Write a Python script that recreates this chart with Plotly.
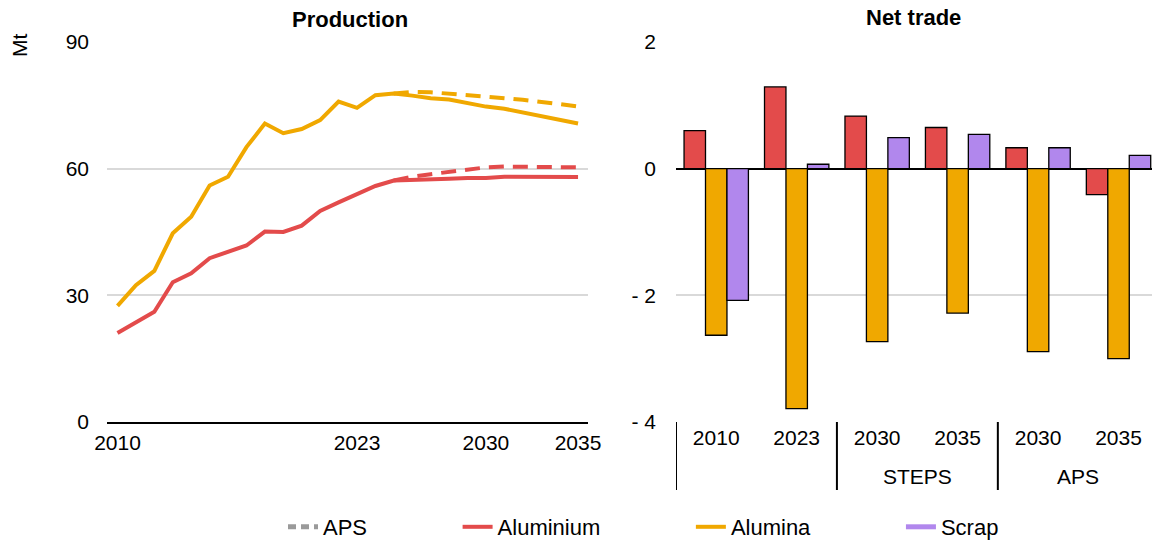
import plotly.graph_objects as go

# ---------------- data ----------------
years = list(range(2010, 2036))
alumina = [27.5, 32.4, 35.8, 44.7, 48.6, 56.0, 58.1, 65.1, 70.7, 68.4, 69.4, 71.5, 75.9,
           74.4, 77.4, 77.8, 77.3, 76.7, 76.4, 75.6, 74.7, 74.2, 73.3, 72.5, 71.7, 70.7]
aluminium = [21.1, 23.5, 26.1, 33.1, 35.2, 38.8, 40.3, 41.8, 45.1, 45.0, 46.5, 50.0, 52.0,
             54.0, 55.9, 57.2, 57.3, 57.3, 57.6, 57.8, 57.8, 58.1, 58.1, 58.0, 58.0, 58.0]
aps_years = list(range(2025, 2036))
alumina_aps = [77.8, 78.2, 78.1, 77.8, 77.4, 77.1, 76.7, 76.3, 75.9, 75.3, 74.7]
aluminium_aps = [57.2, 58.1, 58.7, 59.2, 59.8, 60.3, 60.5, 60.5, 60.4, 60.4, 60.3]

trade_groups = ["", "", "STEPS", "STEPS", "APS", "APS"]
trade_years = ["2010", "2023", "2030", "2035", "2030", "2035"]
trade_aluminium = [0.60, 1.29, 0.83, 0.65, 0.33, -0.41]
trade_alumina = [-2.63, -3.79, -2.73, -2.28, -2.89, -3.00]
trade_scrap = [-2.08, 0.07, 0.49, 0.54, 0.33, 0.21]

left_xticks = [2010, 2023, 2030, 2035]
left_yticks = [0, 30, 60, 90]
right_yticks = [-4, -2, 0, 2]
right_yticktext = ["- 4", "- 2", "0", "2"]

RED = "#E34B4B"
ORANGE = "#F0A800"
PURPLE = "#B187ED"
GREY = "#9A9A9A"
GRID = "#D9D9D9"
FONT = "Liberation Sans, Arial, sans-serif"

W, H = 1152, 542
def px_x(p): return p / W
def px_y(p): return 1 - p / H

PAD = "\u00a0" * 14

fig = go.Figure()

# legend-only APS entry
fig.add_trace(go.Scatter(x=[None], y=[None], mode="lines", name="APS" + PAD,
                         line=dict(color=GREY, width=5, dash="8px,5px"),
                         xaxis="x", yaxis="y"))
# APS dashed lines
fig.add_trace(go.Scatter(x=aps_years, y=alumina_aps, mode="lines", showlegend=False,
                         line=dict(color=ORANGE, width=4, dash="15px,9px"), xaxis="x", yaxis="y"))
fig.add_trace(go.Scatter(x=aps_years, y=aluminium_aps, mode="lines", showlegend=False,
                         line=dict(color=RED, width=4, dash="15px,9px"), xaxis="x", yaxis="y"))
# solid lines
fig.add_trace(go.Scatter(x=years, y=aluminium, mode="lines", name="Aluminium" + PAD,
                         line=dict(color=RED, width=4), xaxis="x", yaxis="y"))
fig.add_trace(go.Scatter(x=years, y=alumina, mode="lines", name="Alumina" + PAD,
                         line=dict(color=ORANGE, width=4), xaxis="x", yaxis="y"))
# legend-only scrap entry
fig.add_trace(go.Scatter(x=[None], y=[None], mode="lines", name="Scrap",
                         line=dict(color=PURPLE, width=5), xaxis="x", yaxis="y"))

# bars (categories placed at index positions on the second x axis)
idx = list(range(len(trade_years)))
for vals, col in [(trade_aluminium, RED), (trade_alumina, ORANGE), (trade_scrap, PURPLE)]:
    fig.add_trace(go.Bar(x=idx, y=vals, marker=dict(color=col, line=dict(color="black", width=1.3)),
                         showlegend=False, xaxis="x2", yaxis="y2"))

# group labels and dividers derived from the group list
annotations = [
    dict(text="<b>Production</b>", x=px_x(350), y=px_y(20), xref="paper", yref="paper",
         xanchor="center", yanchor="middle", showarrow=False,
         font=dict(family=FONT, size=22, color="black")),
    dict(text="<b>Net trade</b>", x=px_x(913), y=px_y(18), xref="paper", yref="paper",
         xanchor="center", yanchor="middle", showarrow=False,
         font=dict(family=FONT, size=22, color="black")),
    dict(text="Mt", x=px_x(20), y=px_y(46), xref="paper", yref="paper", textangle=-90,
         xanchor="center", yanchor="middle", showarrow=False,
         font=dict(family=FONT, size=21, color="black")),
]
shapes = []
start = 0
for i in range(1, len(trade_groups) + 1):
    if i == len(trade_groups) or trade_groups[i] != trade_groups[start]:
        if trade_groups[start]:
            annotations.append(dict(text=trade_groups[start], x=(start + i - 1) / 2, y=px_y(476),
                                    xref="x2", yref="paper", xanchor="center", yanchor="middle",
                                    showarrow=False, font=dict(family=FONT, size=21, color="black")))
        shapes.append(dict(type="line", xref="x2", yref="paper", x0=start - 0.5, x1=start - 0.5,
                           y0=px_y(422), y1=px_y(490), line=dict(color="black", width=2)))
        start = i

tickfont = dict(family=FONT, size=21, color="black")

fig.update_layout(
    width=W, height=H,
    margin=dict(l=0, r=0, t=0, b=0, autoexpand=False),
    paper_bgcolor="white", plot_bgcolor="white",
    font=dict(family=FONT, size=21, color="black"),
    barmode="group", bargap=0.2, bargroupgap=0,
    xaxis=dict(domain=[px_x(107), px_x(588)], range=[2009.43, 2035.54],
               tickvals=left_xticks, ticks="", showgrid=False, zeroline=False,
               showline=True, linecolor="black", linewidth=1.5, tickfont=tickfont,
               anchor="y", automargin=False, ticklabelstandoff=1),
    yaxis=dict(domain=[px_y(422), px_y(42)], range=[0, 90], tickvals=left_yticks,
               showgrid=True, gridcolor=GRID, gridwidth=1.5, zeroline=False, ticks="",
               tickfont=tickfont, anchor="x", automargin=False, ticklabelstandoff=17),
    xaxis2=dict(domain=[px_x(676), 1.0], range=[-0.5, 5.416],
                tickvals=idx, ticktext=trade_years,
                showgrid=False, zeroline=False, showline=False, ticks="",
                tickfont=tickfont, anchor="y2", automargin=False, ticklabelstandoff=1),
    yaxis2=dict(domain=[px_y(422), px_y(42)], range=[-4, 2], tickvals=right_yticks,
                ticktext=right_yticktext, showgrid=True, gridcolor=GRID, gridwidth=1.5,
                zeroline=True, zerolinecolor="black", zerolinewidth=1.5, ticks="",
                tickfont=tickfont, anchor="x2", automargin=False, ticklabelstandoff=19),
    legend=dict(orientation="h", x=px_x(283), xanchor="left", y=px_y(527), yanchor="middle",
                font=dict(family=FONT, size=22, color="black"),
                bgcolor="rgba(0,0,0,0)", traceorder="normal"),
    annotations=annotations,
    shapes=shapes,
)

fig.write_html("out.html", config={"displayModeBar": False},
               post_script="document.body.style.margin='0';document.body.style.overflow='hidden';")
